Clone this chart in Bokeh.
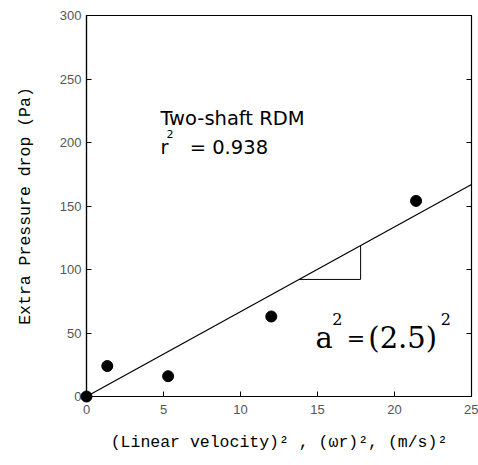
from bokeh.plotting import figure
from bokeh.models import Range1d, LinearAxis, Label, FixedTicker
from bokeh.embed import file_html
from bokeh.resources import INLINE

# data
x_pts = [0.0, 1.35, 5.3, 12.0, 21.4]
y_pts = [0.0, 24.0, 16.0, 63.0, 154.0]
fit_x = [0.0, 25.0]
fit_y = [0.0, 167.0]
x_ticks = [0, 5, 10, 15, 20, 25]
y_ticks = [0, 50, 100, 150, 200, 250, 300]
slope = (fit_y[1] - fit_y[0]) / (fit_x[1] - fit_x[0])
tri_x0, tri_x1 = 13.8, 17.8

p = figure(width=478, height=465, output_backend="svg", toolbar_location=None,
           x_range=Range1d(0, 25), y_range=Range1d(0, 300),
           min_border_left=86, min_border_right=7, min_border_top=15, min_border_bottom=69,
           x_axis_label="(Linear velocity)² , (ωr)², (m/s)²",
           y_axis_label="Extra Pressure drop (Pa)")
p.grid.visible = False
p.outline_line_color = "black"
p.outline_line_width = 1.2
p.background_fill_color = "white"
p.border_fill_color = "white"

for ax, ticks in ((p.xaxis[0], x_ticks), (p.yaxis[0], y_ticks)):
    ax.ticker = FixedTicker(ticks=ticks)
    ax.major_tick_in = 5
    ax.major_tick_out = 0
    ax.minor_tick_line_color = None
    ax.axis_line_color = "black"
    ax.axis_line_width = 1.2
    ax.major_label_text_font = "Liberation Sans"
    ax.major_label_text_font_size = "13px"
    ax.major_label_text_color = "#555555"
    ax.axis_label_text_font = "Liberation Mono"
    ax.axis_label_text_font_size = "16.5px"
    ax.axis_label_text_font_style = "normal"
    ax.axis_label_text_color = "black"
p.xaxis[0].major_label_standoff = 8
p.xaxis[0].axis_label_standoff = 16
p.yaxis[0].major_label_standoff = 5
p.yaxis[0].axis_label_standoff = 22

rax = LinearAxis(ticker=FixedTicker(ticks=y_ticks), major_tick_in=5, major_tick_out=0,
                 minor_tick_line_color=None, major_label_text_font_size="0px",
                 major_label_standoff=0, axis_line_color="black")
p.add_layout(rax, "right")

p.line(fit_x, fit_y, line_color="black", line_width=1.2)
p.line([tri_x0, tri_x1, tri_x1],
       [slope * tri_x0, slope * tri_x0, slope * tri_x1],
       line_color="black", line_width=1)
r = p.scatter(x_pts, y_pts, size=11, color="black")
r.level = "overlay"

def lab(x, y, t, size, font="DejaVu Sans"):
    p.add_layout(Label(x=x, y=y, text=t, text_font=font, text_font_size=size,
                       text_color="black", text_baseline="alphabetic"))

lab(4.8, 219, "Two-shaft RDM", "19.5px")
lab(4.8, 196, "r", "19.5px")
lab(5.2, 207, "2", "11px")
lab(6.7, 196, "= 0.938", "19.5px")

lab(14.87, 45.7, "a", "29px", "DejaVu Serif")
lab(15.95, 61.4, "2", "16px", "DejaVu Serif")
lab(16.9, 45.7, "=", "22px", "DejaVu Serif")
lab(18.3, 45.7, "(2.5)", "29px", "DejaVu Serif")
lab(23.0, 61.4, "2", "16px", "DejaVu Serif")

open("out.html", "w").write(file_html(p, INLINE))
